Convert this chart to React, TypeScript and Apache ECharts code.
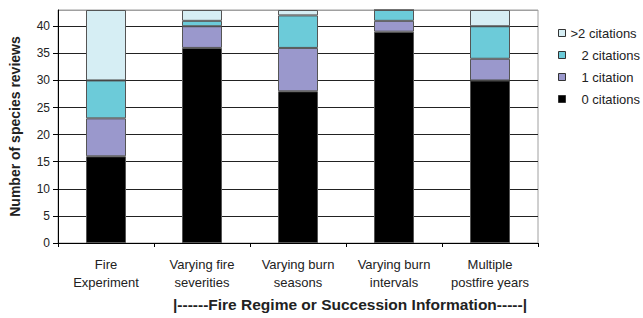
import React, { useEffect, useRef } from "react";
import * as echarts from "echarts";

const categories = [
  "Fire\nExperiment",
  "Varying fire\nseverities",
  "Varying burn\nseasons",
  "Varying burn\nintervals",
  "Multiple\npostfire years",
];
const zeroCitations = [16, 36, 28, 39, 30];
const oneCitation = [7, 4, 8, 2, 4];
const twoCitations = [7, 1, 6, 2, 6];
const moreCitations = [13, 2, 1, 0, 3];
const seriesNames = ["0 citations", "1 citation", "2 citations", ">2 citations"];
const seriesColors = ["#000000", "#9a98cc", "#6ccbd9", "#d6eef4"];
const yTitle = "Number of species reviews";
const xTitle = "|------Fire Regime or Succession Information-----|";

export default function App() {
  const ref = useRef<HTMLDivElement>(null);
  useEffect(() => {
    if (!ref.current) return;
    const chart = echarts.init(ref.current, undefined, { renderer: "svg" });
    const values = [zeroCitations, oneCitation, twoCitations, moreCitations];
    const font = "Liberation Sans, Arial, Helvetica, sans-serif";
    const legendData = [...seriesNames].reverse().map((n) => ({
      name: n,
      textStyle: n.startsWith(">") ? {} : { padding: [0, 0, 0, 11] },
    }));
    chart.setOption({
      animation: false,
      textStyle: { fontFamily: font },
      grid: {
        left: 56,
        right: 105,
        top: 10,
        bottom: 75,
        show: true,
        borderColor: "#a0a0a0",
        borderWidth: 1,
      },
      legend: {
        orient: "vertical",
        left: 553,
        top: 21,
        itemWidth: 7,
        itemHeight: 7,
        itemGap: 8,
        icon: "rect",
        itemStyle: { borderColor: "#333", borderWidth: 1 },
        textStyle: { fontSize: 13, color: "#222", lineHeight: 14, fontFamily: font },
        data: legendData,
      },
      xAxis: {
        type: "category",
        data: categories,
        axisLine: { lineStyle: { color: "#000", width: 1 } },
        axisTick: { show: true, length: 4, lineStyle: { color: "#000" } },
        axisLabel: {
          fontSize: 13,
          color: "#222",
          lineHeight: 18,
          margin: 12,
          interval: 0,
          fontFamily: font,
        },
      },
      yAxis: {
        type: "value",
        min: 0,
        max: 43,
        interval: 5,
        name: yTitle,
        nameLocation: "middle",
        nameRotate: 90,
        nameGap: 36,
        nameTextStyle: { fontSize: 14, fontWeight: "bold", color: "#222", fontFamily: font },
        axisLine: { show: true, lineStyle: { color: "#000", width: 1 } },
        axisTick: { show: true, length: 5, lineStyle: { color: "#000" } },
        axisLabel: { fontSize: 12, color: "#222", margin: 8, showMaxLabel: false, fontFamily: font },
        splitLine: {
          show: true,
          lineStyle: {
            color: ["#222", "#222", "#222", "#222", "#222", "#222", "#222", "#222", "#222", "#a0a0a0"],
            width: 1,
          },
        },
      },
      series: seriesNames.map((name, i) => ({
        name,
        type: "bar",
        stack: "total",
        barWidth: 40,
        data: values[i],
        itemStyle: { color: seriesColors[i], borderColor: "#555", borderWidth: 1 },
      })),
      graphic: [
        {
          type: "text",
          x: 173,
          y: 304,
          style: {
            text: xTitle,
            textAlign: "left",
            textVerticalAlign: "middle",
            fontSize: 15.5,
            fontWeight: "bold",
            fill: "#222",
            fontFamily: font,
          },
        },
      ],
    });
    return () => chart.dispose();
  }, []);
  return (
    <div
      ref={ref}
      style={{ position: "fixed", left: 0, top: 0, width: 643, height: 318, background: "#fff" }}
    />
  );
}
